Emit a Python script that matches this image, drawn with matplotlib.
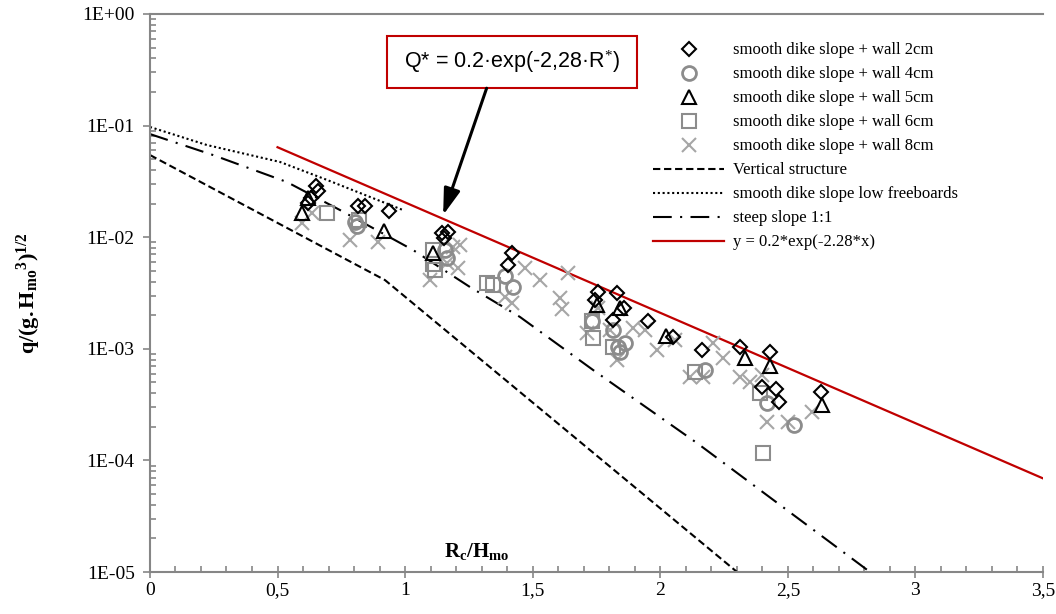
# Overtopping discharge vs relative freeboard, smooth dike slope + wall
import numpy as np
import matplotlib.pyplot as plt
from matplotlib.patches import Rectangle
from matplotlib.ticker import FixedLocator, MultipleLocator, FuncFormatter, LogLocator, NullFormatter

plt.rcParams['font.family'] = 'Liberation Serif'
plt.rcParams['mathtext.fontset'] = 'custom'
plt.rcParams['mathtext.rm'] = 'Liberation Serif'
plt.rcParams['mathtext.bf'] = 'Liberation Serif:bold'
plt.rcParams['mathtext.it'] = 'Liberation Serif:italic'

# --------------------------------------------------------------------------- #
# Measured points (Rc/Hmo, q/sqrt(g Hmo^3)), read off the original chart.
x_2cm = [0.651, 0.659, 0.631, 0.619, 0.815, 0.843, 0.937, 1.145, 1.168, 1.152,
         1.419, 1.403, 1.756, 1.744, 1.831, 1.858, 1.815, 1.952, 2.050, 2.164,
         2.313, 2.430, 2.399, 2.454, 2.466, 2.630]
y_2cm = [0.0288, 0.0259, 0.0225, 0.0202, 0.0190, 0.0190, 0.0172, 0.0109, 0.0111, 0.0098,
         0.0072, 0.0056, 0.00323, 0.00274, 0.00316, 0.00232, 0.00181, 0.00177, 0.00128, 0.000975,
         0.00104, 0.000936, 0.000455, 0.000436, 0.000334, 0.00041]

x_4cm = [0.804, 0.811, 1.156, 1.164, 1.392, 1.423, 1.733, 1.815, 1.862, 1.835,
         1.842, 2.176, 2.419, 2.524]
y_4cm = [0.0137, 0.0126, 0.00768, 0.00651, 0.00449, 0.00358, 0.00177, 0.00147, 0.00113, 0.00104,
         0.000936, 0.000645, 0.000327, 0.000208]

x_5cm = [0.596, 0.619, 0.917, 1.109, 1.752, 1.842, 2.023, 2.332, 2.430, 2.634]
y_5cm = [0.0165, 0.0225, 0.0114, 0.0072, 0.00247, 0.00232, 0.0013, 0.000828, 0.000701, 0.000313]

x_6cm = [0.694, 0.819, 1.109, 1.109, 1.117, 1.321, 1.345, 1.733, 1.737, 1.815,
         2.136, 2.391, 2.403]
y_6cm = [0.0165, 0.0143, 0.00768, 0.00576, 0.00508, 0.00389, 0.00373, 0.00177, 0.00125, 0.00104,
         0.00062, 0.000402, 0.000116]

x_8cm = [0.596, 0.635, 0.784, 0.894, 1.098, 1.188, 1.215, 1.207, 1.164, 1.470,
         1.529, 1.639, 1.392, 1.419, 1.607, 1.615, 1.713, 1.831, 1.756, 1.803,
         1.893, 1.987, 2.058, 2.207, 2.246, 2.117, 2.168, 2.313, 2.352, 2.399,
         2.419, 2.501, 2.595, 1.940]
y_8cm = [0.0134, 0.0165, 0.00944, 0.00906, 0.00413, 0.00817, 0.00851, 0.0053, 0.00587, 0.0053,
         0.00413, 0.00478, 0.00291, 0.00257, 0.00285, 0.00227, 0.00139, 0.000794, 0.00232, 0.00147,
         0.00153, 0.000975, 0.0012, 0.00113, 0.000828, 0.000558, 0.000558, 0.000558, 0.000504, 0.000582,
         0.000221, 0.000221, 0.000272, 0.00147]

# Reference curves.
x_vert = [0.0, 0.921, 2.301]
y_vert = [0.0545, 0.00413, 1.0e-5]

x_lowfb = [0.0, 0.223, 0.510, 0.694, 0.992]
y_lowfb = [0.0972, 0.067, 0.0472, 0.0326, 0.0175]

x_steep = [0.0, 0.247, 0.537, 0.745, 1.031, 1.254, 1.450, 1.737, 2.144, 2.822]
y_steep = [0.084, 0.0545, 0.0312, 0.0175, 0.00768, 0.00358, 0.00193, 0.000645, 0.000143, 1.0e-5]

# Fitted line y = 0.2*exp(-2.28*x), end points.
x_fit = [0.5, 3.5]
y_fit = [0.064, 6.9e-5]

# --------------------------------------------------------------------------- #
grey_ax = '#868686'
red = '#c00000'

fig = plt.figure(figsize=(10.56, 6.14), dpi=100)
ax = fig.add_axes([0.142, 0.0684, 0.8457, 0.9088])

ax.plot(x_2cm, y_2cm, ls='none', marker='D', ms=7.5, mfc='none', mec='black', mew=1.5,
        label='smooth dike slope + wall 2cm', zorder=5)
ax.plot(x_4cm, y_4cm, ls='none', marker='o', ms=10, mfc='none', mec='#8c8c8c', mew=2,
        label='smooth dike slope + wall 4cm', zorder=4)
ax.plot(x_5cm, y_5cm, ls='none', marker='^', ms=10, mfc='none', mec='black', mew=1.5,
        label='smooth dike slope + wall 5cm', zorder=5)
ax.plot(x_6cm, y_6cm, ls='none', marker='s', ms=9.5, mfc='none', mec='#8c8c8c', mew=1.5,
        label='smooth dike slope + wall 6cm', zorder=4)
ax.plot(x_8cm, y_8cm, ls='none', marker='x', ms=10, mec='#a6a6a6', mew=1.5,
        label='smooth dike slope + wall 8cm', zorder=3)

ax.plot(x_vert, y_vert, color='black', lw=1.5, ls=(0, (3.5, 1.8)),
        label='Vertical structure')
ax.plot(x_lowfb, y_lowfb, color='black', lw=1.5, ls=(0, (1, 1.3)),
        label='smooth dike slope low freeboards')
ax.plot(x_steep, y_steep, color='black', lw=1.5, ls=(0, (9, 4, 1, 4)),
        label='steep slope 1:1')
ax.plot(x_fit, y_fit, color=red, lw=1.6, label='y = 0.2*exp(-2.28*x)')

ax.set_yscale('log')
ax.set_xlim(0, 3.5)
ax.set_ylim(1e-5, 1)

# Axis styling (Excel look).
ax.spines['right'].set_visible(False)
for side in ['left', 'bottom', 'top']:
    ax.spines[side].set_color(grey_ax)
    ax.spines[side].set_linewidth(1.5)

ax.xaxis.set_major_locator(MultipleLocator(0.5))
ax.xaxis.set_minor_locator(MultipleLocator(0.1))
ax.xaxis.set_major_formatter(FuncFormatter(lambda v, p: ('%g' % v).replace('.', ',')))
ax.yaxis.set_major_locator(FixedLocator([1e-5, 1e-4, 1e-3, 1e-2, 1e-1, 1]))
ax.yaxis.set_minor_locator(LogLocator(base=10, subs=np.arange(2, 10), numticks=20))
ax.yaxis.set_minor_formatter(NullFormatter())
ax.yaxis.set_major_formatter(FuncFormatter(lambda v, p: '1E%+03d' % int(round(np.log10(v)))))

ax.tick_params(axis='x', which='major', direction='inout', length=8, width=1.2,
               color=grey_ax, labelsize=14, pad=3, top=False)
ax.tick_params(axis='x', which='minor', direction='in', length=4, width=1.2,
               color=grey_ax, top=False)
ax.tick_params(axis='y', which='major', direction='out', length=5, width=1.2,
               color=grey_ax, labelsize=14, pad=6)
ax.tick_params(axis='y', which='minor', direction='in', length=4, width=1.2,
               color=grey_ax)

ax.set_ylabel(r'$\mathbf{q/(g.H_{mo}{}^{3})^{1/2}}$', fontsize=16, labelpad=28)
ax.text(0.366, 0.036, r'$\mathbf{R_{c}/H_{mo}}$', transform=ax.transAxes,
        fontsize=15, ha='center', va='center')

# Formula box with arrow.
ax.add_patch(Rectangle((0.265, 0.867), 0.280, 0.094, transform=ax.transAxes,
                       facecolor='white', edgecolor=red, lw=1.5, zorder=6))
ax.text(0.405, 0.914, r'Q* = 0.2·exp(-2,28·R$^{*}$)', transform=ax.transAxes,
        fontsize=15.5, family='Liberation Sans', ha='center', va='center', zorder=7)
ax.annotate('', xy=(1.149, 0.0158), xytext=(0.377, 0.867),
            textcoords='axes fraction',
            arrowprops=dict(arrowstyle='-|>,head_length=0.8,head_width=0.25',
                            color='black', lw=2.2, mutation_scale=20,
                            shrinkA=0, shrinkB=0), zorder=7)

ax.legend(loc='upper left', bbox_to_anchor=(0.563, 0.949), frameon=False,
          fontsize=12, handlelength=4.3, handletextpad=0.5, labelspacing=0.48,
          borderpad=0, borderaxespad=0)

plt.savefig('out.png', dpi=100)
